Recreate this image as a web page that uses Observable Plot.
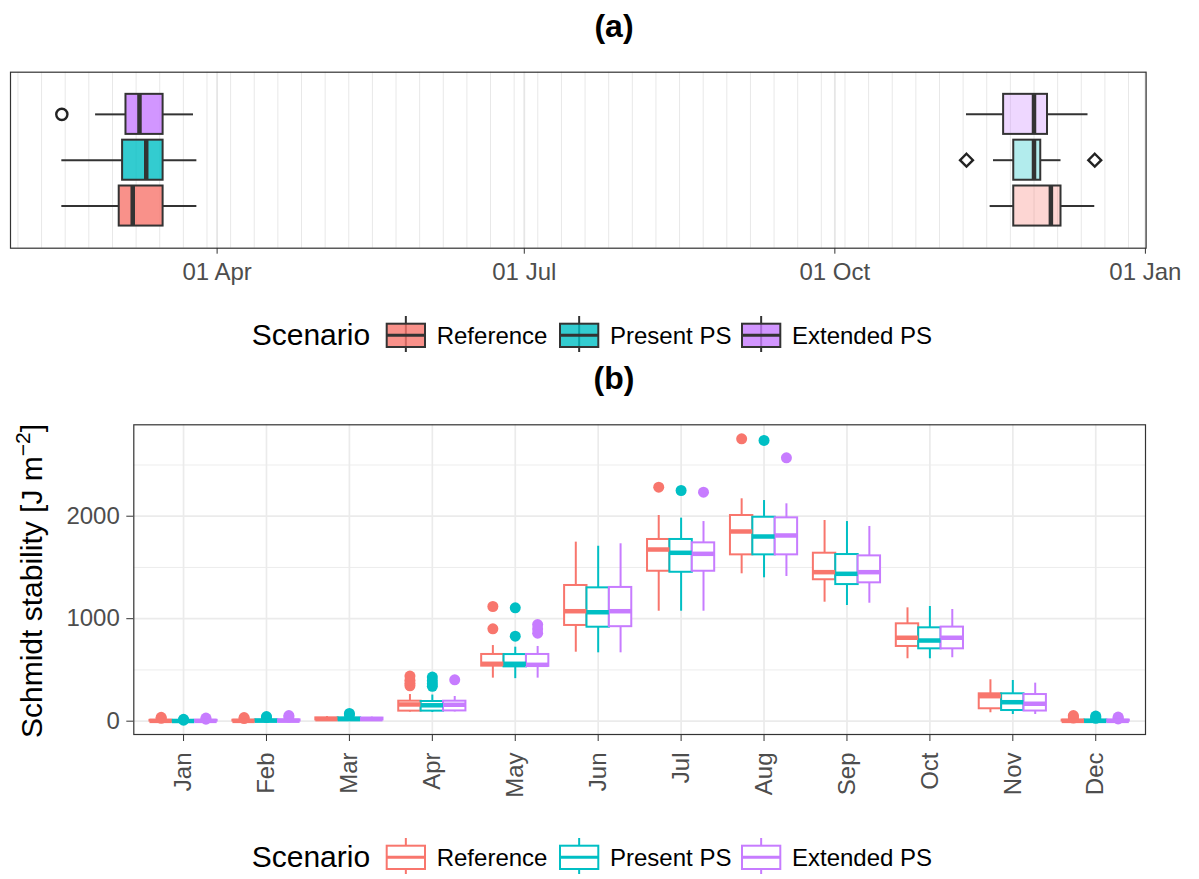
<!DOCTYPE html>
<html>
<head>
<meta charset="utf-8">
<script src="https://cdn.jsdelivr.net/npm/d3@7"></script>
<script src="https://cdn.jsdelivr.net/npm/@observablehq/plot@0.6"></script>
<style>
  body { margin: 0; background: #fff; }
  #wrap { position: relative; width: 1199px; height: 879px; font-family: "Liberation Sans", Arial, sans-serif; overflow: hidden; }
  #wrap > svg, #wrap > figure { position: absolute; left: 0; margin: 0; }
  [aria-label="x-axis tick label"] text, [aria-label="y-axis tick label"] text,
  g[aria-label="x-axis"] text, g[aria-label="y-axis"] text { fill: #4d4d4d; }
</style>
</head>
<body>
<div id="wrap"></div>
<script>
// ---------- shared ----------
const scenarios = ["Reference", "Present PS", "Extended PS"];
const scenarioColors = ["#F8766D", "#00BFC4", "#C77CFF"];

// ---------- panel (a): dates (stratification onset / end) ----------
// per scenario (Reference, Present PS, Extended PS)
const onsetLow    = ["2015-02-14", "2015-02-14", "2015-02-24"];
const onsetQ1     = ["2015-03-03", "2015-03-04", "2015-03-05"];
const onsetMedian = ["2015-03-07", "2015-03-11", "2015-03-09"];
const onsetQ3     = ["2015-03-16", "2015-03-16", "2015-03-16"];
const onsetHigh   = ["2015-03-26", "2015-03-26", "2015-03-25"];
const onsetOutlierScenario = ["Extended PS"];
const onsetOutlierDate     = ["2015-02-14"];

const endLow    = ["2015-11-16", "2015-11-17", "2015-11-09"];
const endQ1     = ["2015-11-23", "2015-11-23", "2015-11-20"];
const endMedian = ["2015-12-04", "2015-11-29", "2015-11-29"];
const endQ3     = ["2015-12-07", "2015-12-01", "2015-12-03"];
const endHigh   = ["2015-12-17", "2015-12-07", "2015-12-15"];
const endOutlierScenario = ["Present PS", "Present PS"];
const endOutlierDate     = ["2015-11-09", "2015-12-17"];

const dateTicks = ["2015-04-01", "2015-07-01", "2015-10-01", "2016-01-01"];

// ---------- panel (b): monthly Schmidt stability ----------
const months = ["Jan", "Feb", "Mar", "Apr", "May", "Jun", "Jul", "Aug", "Sep", "Oct", "Nov", "Dec"];
// [lower whisker, Q1, median, Q3, upper whisker] per month
const referenceStats = [
  [0, 1, 3, 8, 18], [0, 1, 3, 9, 20], [2, 12, 20, 32, 45], [88, 98, 163, 195, 260],
  [420, 537, 560, 651, 738], [673, 934, 1073, 1324, 1747], [1073, 1463, 1675, 1773, 2007],
  [1438, 1623, 1851, 2007, 2170], [1161, 1380, 1454, 1639, 1958], [609, 729, 814, 950, 1106],
  [82, 121, 244, 267, 404], [0, 1, 3, 10, 20]
];
const presentStats = [
  [0, 1, 2, 6, 14], [0, 2, 5, 12, 25], [2, 12, 20, 32, 50], [85, 98, 155, 192, 255],
  [415, 530, 560, 650, 722], [667, 917, 1063, 1301, 1707], [1073, 1453, 1643, 1773, 1981],
  [1399, 1623, 1802, 1990, 2153], [1129, 1333, 1438, 1626, 1948], [609, 706, 787, 911, 1119],
  [65, 104, 185, 267, 397], [0, 1, 3, 10, 20]
];
const extendedStats = [
  [0, 1, 3, 8, 16], [0, 2, 5, 12, 25], [2, 12, 20, 30, 40], [90, 100, 160, 195, 241],
  [420, 535, 550, 651, 729], [667, 922, 1073, 1305, 1731], [1073, 1463, 1633, 1740, 1948],
  [1412, 1623, 1812, 1984, 2121], [1151, 1350, 1454, 1613, 1900], [619, 706, 814, 918, 1090],
  [65, 99, 170, 260, 371], [0, 1, 3, 10, 20]
];
const referenceOutMonth = ["Jan", "Jan", "Feb", "Feb", "Apr", "Apr", "Apr", "Apr", "May", "May", "Jul", "Aug", "Dec", "Dec", "Dec"];
const referenceOutValue = [28, 38, 25, 35, 345, 370, 400, 440, 901, 1119, 2283, 2755, 30, 42, 55];
const presentOutMonth = ["Jan", "Jan", "Feb", "Feb", "Mar", "Mar", "Apr", "Apr", "Apr", "Apr", "May", "May", "Jul", "Aug", "Dec", "Dec", "Dec"];
const presentOutValue = [10, 18, 35, 45, 62, 75, 340, 365, 395, 430, 829, 1106, 2251, 2739, 28, 40, 50];
const extendedOutMonth = ["Jan", "Jan", "Feb", "Feb", "Apr", "May", "May", "May", "Jul", "Aug", "Dec", "Dec", "Dec"];
const extendedOutValue = [20, 30, 40, 55, 404, 859, 900, 943, 2234, 2570, 22, 32, 40];
const yTicks = [0, 1000, 2000];
const yMinor = [500, 1500, 2500];

// ---------- build tables ----------
const parse = s => new Date(s + "T00:00Z");
const boxA = (lo, q1, md, q3, hi) => scenarios.map((s, k) => ({
  scenario: s, idx: k, lo: parse(lo[k]), q1: parse(q1[k]), med: parse(md[k]), q3: parse(q3[k]), hi: parse(hi[k])
}));
const onsetRows = boxA(onsetLow, onsetQ1, onsetMedian, onsetQ3, onsetHigh);
const endRows = boxA(endLow, endQ1, endMedian, endQ3, endHigh);
const allA = onsetRows.concat(endRows);
const onsetOut = onsetOutlierDate.map((d, i) => ({date: parse(d), idx: scenarios.indexOf(onsetOutlierScenario[i])}));
const endOut = endOutlierDate.map((d, i) => ({date: parse(d), idx: scenarios.indexOf(endOutlierScenario[i])}));
const xDomainA = [new Date("2015-01-29T19:00Z"), new Date("2016-01-01T05:00Z")];
const majorDates = dateTicks.map(parse);
const hA = 0.437;

const fontFamily = "Liberation Sans, Arial, sans-serif";
const baseStyle = {fontSize: "24px", fontFamily, color: "#333", background: "transparent", overflow: "visible"};

const plotA = Plot.plot({
  width: 1199, height: 300,
  marginLeft: 10, marginRight: 53.4, marginTop: 71.7, marginBottom: 52.3,
  style: baseStyle,
  x: {type: "utc", domain: xDomainA, ticks: majorDates, tickFormat: d3.utcFormat("%d %b"), tickSize: 6, tickPadding: 9, label: null},
  y: {domain: [-0.92, 2.92], axis: null},
  color: {domain: scenarios, range: scenarioColors},
  marks: [
    Plot.ruleX(d3.utcSunday.range(xDomainA[0], xDomainA[1]), {stroke: "#e8e8e8", strokeWidth: 1}),
    Plot.ruleX(majorDates, {stroke: "#e6e6e6", strokeWidth: 1.8}),
    Plot.ruleY(allA, {y: "idx", x1: "lo", x2: "q1", stroke: "#333", strokeWidth: 2}),
    Plot.ruleY(allA, {y: "idx", x1: "q3", x2: "hi", stroke: "#333", strokeWidth: 2}),
    Plot.rect(onsetRows, {x1: "q1", x2: "q3", y1: d => d.idx - hA, y2: d => d.idx + hA, fill: "scenario", fillOpacity: 0.8, stroke: "#333", strokeWidth: 2}),
    Plot.rect(endRows, {x1: "q1", x2: "q3", y1: d => d.idx - hA, y2: d => d.idx + hA, fill: "scenario", fillOpacity: 0.3, stroke: "#333", strokeWidth: 2}),
    Plot.ruleX(allA, {x: "med", y1: d => d.idx - hA, y2: d => d.idx + hA, stroke: "#333", strokeWidth: 4.5}),
    Plot.dot(onsetOut, {x: "date", y: "idx", r: 5.6, stroke: "#222", strokeWidth: 2.4, fill: "none"}),
    Plot.dot(endOut, {x: "date", y: "idx", r: 5.8, symbol: d3.symbolDiamond2 || "diamond", stroke: "#222", strokeWidth: 2.4, fill: "none"}),
    Plot.frame({stroke: "#333", strokeWidth: 1.2})
  ]
});

// panel (b)
const dodge = 0.27, half = 0.135;
const statsBy = [referenceStats, presentStats, extendedStats];
const outMonthBy = [referenceOutMonth, presentOutMonth, extendedOutMonth];
const outValueBy = [referenceOutValue, presentOutValue, extendedOutValue];
const boxRows = scenarios.flatMap((s, k) => statsBy[k].map((st, i) => ({
  scenario: s, xc: i + 1 + (k - 1) * dodge, lo: st[0], q1: st[1], med: st[2], q3: st[3], hi: st[4]
})));
const outRows = scenarios.flatMap((s, k) => outMonthBy[k].map((m, i) => ({
  scenario: s, xc: months.indexOf(m) + 1 + (k - 1) * dodge, v: outValueBy[k][i]
})));
const monthPos = months.map((m, i) => i + 1);

const plotB = Plot.plot({
  width: 1199, height: 420,
  marginLeft: 133.3, marginRight: 54, marginTop: 24.3, marginBottom: 86,
  style: baseStyle,
  x: {domain: [0.4, 12.6], ticks: monthPos, tickFormat: i => months[i - 1], tickRotate: -90, tickSize: 7, tickPadding: 11, label: null},
  y: {domain: [-130, 2892], ticks: yTicks, tickFormat: d => String(d), tickSize: 7, tickPadding: 7, label: null},
  color: {domain: scenarios, range: scenarioColors},
  marks: [
    Plot.ruleY(yMinor, {stroke: "#ebebeb", strokeWidth: 0.9}),
    Plot.ruleY(yTicks, {stroke: "#ebebeb", strokeWidth: 1.7}),
    Plot.ruleX(monthPos, {stroke: "#ebebeb", strokeWidth: 1.7}),
    Plot.dot(outRows, {x: "xc", y: "v", fill: "scenario", r: 5.5}),
    Plot.ruleX(boxRows, {x: "xc", y1: "lo", y2: "q1", stroke: "scenario", strokeWidth: 2}),
    Plot.ruleX(boxRows, {x: "xc", y1: "q3", y2: "hi", stroke: "scenario", strokeWidth: 2}),
    Plot.rect(boxRows, {x1: d => d.xc - half, x2: d => d.xc + half, y1: "q1", y2: "q3", fill: "white", stroke: "scenario", strokeWidth: 2}),
    Plot.ruleY(boxRows, {y: "med", x1: d => d.xc - half, x2: d => d.xc + half, stroke: "scenario", strokeWidth: 4.5}),
    Plot.frame({stroke: "#333", strokeWidth: 1.2})
  ]
});

const wrap = document.getElementById("wrap");
plotA.style.top = "0px";
plotB.style.top = "400px";
wrap.appendChild(plotA);
wrap.appendChild(plotB);

// ---------- overlay: titles, legends, y-axis title ----------
const NS = "http://www.w3.org/2000/svg";
const ov = document.createElementNS(NS, "svg");
ov.setAttribute("width", 1199); ov.setAttribute("height", 879);
ov.style.position = "absolute"; ov.style.left = "0px"; ov.style.top = "0px";
ov.style.fontFamily = fontFamily;
wrap.appendChild(ov);
function el(tag, attrs, parent = ov) {
  const e = document.createElementNS(NS, tag);
  for (const k in attrs) e.setAttribute(k, attrs[k]);
  parent.appendChild(e);
  return e;
}
function txt(str, attrs) { const t = el("text", attrs); t.textContent = str; return t; }

txt("(a)", {x: 614, y: 36.5, "text-anchor": "middle", "font-size": 32, "font-weight": "bold", fill: "#000"});
txt("(b)", {x: 614, y: 389, "text-anchor": "middle", "font-size": 32, "font-weight": "bold", fill: "#000"});

// y-axis title with superscript
const yt = el("text", {transform: "translate(41.5,581) rotate(-90)", "text-anchor": "middle", "font-size": 30, fill: "#000"});
const t1 = el("tspan", {}, yt); t1.textContent = "Schmidt stability [J m";
const t2 = el("tspan", {"font-size": 21, dy: -12}, yt); t2.textContent = "\u22122";
const t3 = el("tspan", {dy: 12}, yt); t3.textContent = "]";

const keyX = [386.7, 560, 742];
const labelX = [436.7, 610, 792];
function legend(dy, filled) {
  txt("Scenario", {x: 251.7, y: 345.3 + dy, "font-size": 30, fill: "#000"});
  scenarios.forEach((s, k) => {
    const x0 = keyX[k], w = 38.3, cx = x0 + w / 2;
    const col = scenarioColors[k];
    const stroke = filled ? "#333" : col;
    el("line", {x1: cx, x2: cx, y1: 316 + dy, y2: 352 + dy, stroke, "stroke-width": 2});
    el("rect", {x: x0, y: 323.7 + dy, width: w, height: 23.3, fill: filled ? col : "#fff", "fill-opacity": filled ? 0.8 : 1, stroke, "stroke-width": 2});
    el("line", {x1: x0, x2: x0 + w, y1: 335.3 + dy, y2: 335.3 + dy, stroke, "stroke-width": 3});
    txt(s, {x: labelX[k], y: 343.7 + dy, "font-size": 24, fill: "#000"});
  });
}
legend(0, true);
legend(522, false);
</script>
</body>
</html>
